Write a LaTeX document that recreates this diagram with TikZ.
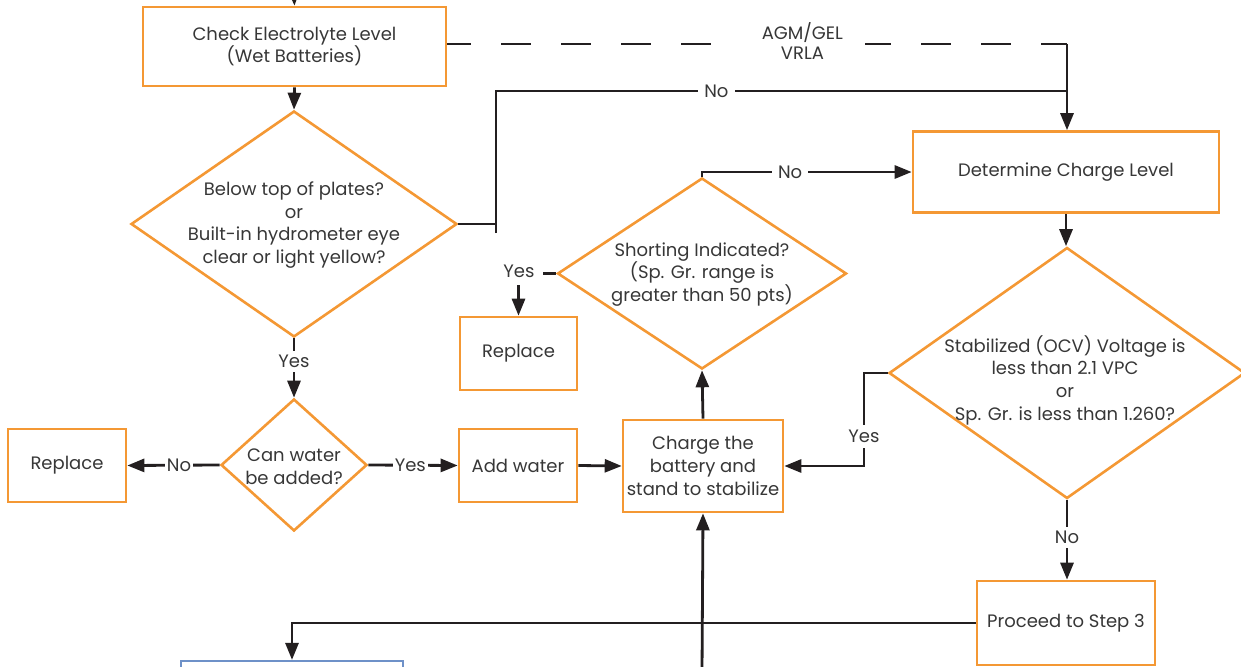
\documentclass[tikz,border=0pt]{standalone}
\usepackage{fontspec}
\setmainfont{Poppins}
\usetikzlibrary{shapes.geometric,arrows.meta}
\definecolor{org}{RGB}{244,152,52}
\definecolor{ln}{RGB}{35,31,32}
\definecolor{tx}{RGB}{55,55,55}
\definecolor{blu}{RGB}{110,145,200}
\newcommand\fs{\fontsize{18}{22.7}\selectfont}
\tikzset{
 box/.style={draw=org, line width=2.6pt, fill=white, rectangle, inner sep=0pt, align=center, text=tx, font=\fs},
 dia/.style={draw=org, line width=2.6pt, diamond, inner sep=0pt},
 txt/.style={align=center, text=tx, font=\fs, inner sep=1pt},
 lab/.style={fill=white, text=tx, font=\fs, inner xsep=6pt, inner ysep=2pt, align=center},
 labt/.style={fill=white, text=tx, font=\fs, inner xsep=2pt, inner ysep=2pt},
 conn/.style={draw=ln, line width=2.8pt},
 arr/.style={conn, -{Triangle[length=17pt,width=13pt]}},
}
\begin{document}
\begin{tikzpicture}[x=1pt,y=-1pt]
\useasboundingbox (0,0) rectangle (1241,666);
\clip (0,0) rectangle (1241,666);
% nodes
\node[box, minimum width=303, minimum height=79] (check) at (294.5,46.5) {Check Electrolyte Level\\(Wet Batteries)};
\node[dia, minimum width=326, minimum height=226] (d1) at (294,224) {};
\node[txt] (d1t) at (294,225) {Below top of plates?\\or\\Built-in hydrometer eye\\clear or light yellow?};
\node[box, minimum width=306, minimum height=81] (det) at (1066,172) {Determine Charge Level};
\node[dia, minimum width=356, minimum height=251] (ocv) at (1067,373) {};
\node[txt] (ocvt) at (1065,380) {Stabilized (OCV) Voltage is\\less than 2.1 VPC\\or\\Sp. Gr. is less than 1.260?};
\node[box, minimum width=178, minimum height=84] (proc) at (1066,623) {Proceed to Step 3};
\node[draw=blu, line width=2.2pt, fill=white, minimum width=222, minimum height=60, inner sep=0pt] (blue) at (292,691) {};
\node[box, minimum width=160, minimum height=92] (charge) at (703,466) {Charge the\\battery and\\stand to stabilize};
\node[dia, minimum width=289, minimum height=191] (sh) at (702,273.5) {};
\node[txt] (sht) at (702,274.5) {Shorting Indicated?\\(Sp. Gr. range is\\greater than 50 pts)};
\node[box, minimum width=117, minimum height=73] (rep2) at (518.5,353.5) {Replace};
\node[dia, minimum width=146, minimum height=132] (d2) at (294,465) {};
\node[txt] (d2t) at (294,466.5) {Can water\\be added?};
\node[box, minimum width=118, minimum height=73] (rep1) at (67,465.5) {Replace};
\node[box, minimum width=118, minimum height=73] (add) at (518,465.5) {Add water};
% helper coordinates
\coordinate (top) at (294,-5);
\coordinate (j1) at (496,224);
\coordinate (j1b) at (496,233);
\coordinate (j1c) at (496,91);
\coordinate (j2) at (1067,91);
\coordinate (j3) at (1067,44);
\coordinate (j5) at (864,466);
\coordinate (bot) at (702,672);
\coordinate (y3a) at (543,273.5);
\coordinate (y3b) at (518.5,285);
\node[labt, fill=none] (yes3) at (519,271) {Yes};
% connectors
\draw[arr] (top) -- (check.north);
\draw[arr] (check.south) -- (d1.north);
\draw[conn] (d1.east) -- (j1);
\draw[arr] (j1b) -- (j1c) -- node[lab,pos=0.386]{No} (j2) -- (j2 |- det.north);
\draw[conn, dash pattern=on 30pt off 30pt, dash phase=6pt] ([yshift=2.5pt]check.east) -- node[lab,pos=0.573,inner ysep=0pt,inner xsep=22pt,yshift=3pt]{AGM/GEL\\[-2pt]VRLA} (j3);
\draw[conn] (j3) -- (j2);
\draw[arr] (det.south) -- (det.south |- ocv.north);
\draw[arr] (ocv.south) -- node[lab, inner ysep=4pt, pos=0.47]{No} (ocv.south |- proc.north);
\draw[arr] (ocv.west) -| node[lab,pos=0.84, inner ysep=5pt]{Yes} (j5) -- (charge.east);
\draw[arr] (proc.west) -| (blue.north);
\draw[arr] (bot) -- (charge.south);
\draw[arr] (charge.north) -- (sh.south);
\draw[arr] (sh.north) |- node[lab,pos=0.71]{No} (det.west);
\draw[conn] (sh.west) -- (y3a);
\draw[arr] (y3b) -- (rep2.north);
\draw[arr] (d1.south) -- node[labt,pos=0.39, inner ysep=4pt]{Yes} (d2.north);
\draw[arr] (d2.west) -- node[labt,pos=0.44]{No} (rep1.east);
\draw[arr] (d2.east) -- node[labt,pos=0.47]{Yes} (add.west);
\draw[arr] (add.east) -- (charge.west);
\end{tikzpicture}
\end{document}
